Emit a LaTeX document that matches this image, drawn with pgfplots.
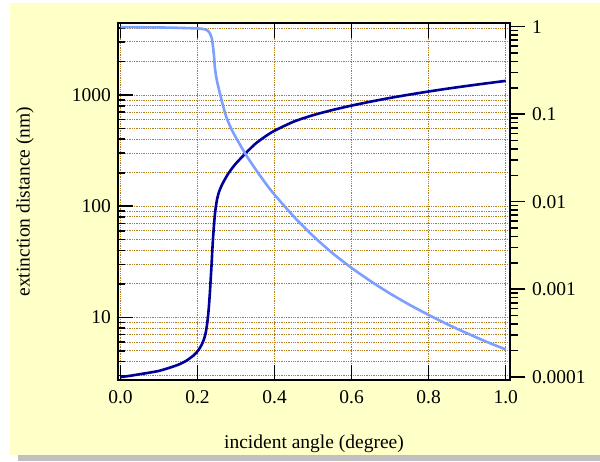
\documentclass[border=0pt]{standalone}
\usepackage{fontspec}
\setmainfont{Liberation Serif}
\usepackage{pgfplots}
\pgfplotsset{compat=1.18}
\definecolor{bgyellow}{RGB}{255,255,200}
\definecolor{shadowgray}{RGB}{192,192,192}
\definecolor{gridgold}{RGB}{180,125,30}
\definecolor{darkcurve}{RGB}{0,0,153}
\definecolor{lightcurve}{RGB}{125,160,255}
\newcommand\chartfont{\fontsize{19.5}{22}\selectfont}

\pgfplotsset{
  common/.style={
    at={(118pt,81pt)}, anchor=south west, scale only axis,
    width=392pt, height=356.7pt,
    xmin=-0.0065, xmax=1.0112,
    tick label style={font=\chartfont}, label style={font=\chartfont},
    tick style={black, line width=1.6pt},
    axis line style={line width=1.6pt},
    major tick length=15pt,
  }
}

\begin{document}
\begin{tikzpicture}[x=1pt,y=1pt]
\path[use as bounding box] (0,0) rectangle (600,461);
\fill[shadowgray] (18,0) rectangle (600,6);
\fill[bgyellow] (10,6) rectangle (600,458);

% extinction distance, left axis
\begin{semilogyaxis}[
  common,
  axis background/.style={fill=white},
  ymin=2.731, ymax=4419,
  xtick={0,0.2,0.4,0.6,0.8,1.0}, xticklabels={0.0,0.2,0.4,0.6,0.8,1.0},
  ytick={10,100,1000}, yticklabels={10,100,1000},
  minor ytick={3,4,5,6,7,8,9,20,30,40,50,60,70,80,90,200,300,400,500,600,700,800,900,2000,3000,4000},
  ytick pos=left, xtick pos=both, tick align=inside,
  minor tick length=7pt,
  grid=both,
  major grid style={gridgold, dash pattern=on 1.3pt off 1pt, line width=1pt},
  minor grid style={gridgold, dash pattern=on 1.3pt off 1pt, line width=1pt},
  xticklabel style={yshift=-7pt},
  yticklabel style={xshift=-3.5pt},
  xlabel={incident angle (degree)},
  xlabel style={at={(axis description cs:0.5,-0.178)}, anchor=center},
  ylabel={extinction distance (nm)},
  ylabel style={at={(axis description cs:-0.2372,0.5)}, anchor=center},
]
\addplot[darkcurve, line width=2.6pt, smooth, tension=0.4] coordinates {
(0.000,2.90)(0.025,2.98)(0.050,3.08)(0.075,3.18)(0.100,3.30)(0.125,3.50)
(0.150,3.75)(0.170,4.05)(0.190,4.55)(0.200,4.95)(0.206,5.30)(0.212,5.80)
(0.217,6.40)(0.221,7.20)(0.224,8.30)(0.227,10.0)(0.2295,12.5)(0.232,16.5)
(0.234,21.6)(0.236,28)(0.238,38)(0.240,50)(0.243,70)(0.246,90)(0.250,112)
(0.255,132)(0.262,152)(0.270,172)(0.280,197)(0.290,220)(0.300,243)
(0.325,300)(0.350,364)(0.375,422)(0.400,478)(0.450,577)
(0.500,659)(0.550,733)(0.600,804)(0.650,873)(0.700,942)(0.750,1009)
(0.800,1076)(0.850,1143)(0.900,1208)(0.950,1274)(1.000,1340)};
\end{semilogyaxis}

% reflectivity, right axis
\begin{semilogyaxis}[
  common,
  ymin=9.17e-5, ymax=1.093,
  axis x line=none, axis y line*=right,
  ytick={1e-4,1e-3,1e-2,1e-1,1}, yticklabels={0.0001,0.001,0.01,0.1,1},
  minor ytick={2e-4,3e-4,4e-4,5e-4,6e-4,7e-4,8e-4,9e-4,
               2e-3,3e-3,4e-3,5e-3,6e-3,7e-3,8e-3,9e-3,
               2e-2,3e-2,4e-2,5e-2,6e-2,7e-2,8e-2,9e-2,
               0.2,0.3,0.4,0.5,0.6,0.7,0.8,0.9},
  tick align=outside, minor tick length=8pt,
  yticklabel style={xshift=3.5pt},
]
\addplot[lightcurve, line width=2.6pt, smooth, tension=0.4] coordinates {
(0.000,0.99)(0.050,0.985)(0.100,0.98)(0.150,0.97)(0.200,0.955)(0.215,0.94)
(0.224,0.915)(0.230,0.87)(0.234,0.80)(0.237,0.74)(0.240,0.60)(0.243,0.45)
(0.245,0.34)(0.250,0.245)(0.258,0.173)(0.266,0.126)(0.275,0.092)(0.287,0.069)
(0.300,0.0537)(0.325,0.0347)(0.350,0.0237)(0.375,0.0166)(0.400,0.0120)
(0.450,0.00675)(0.500,0.00406)(0.550,0.00259)(0.600,0.00175)(0.650,0.00123)
(0.700,0.000891)(0.750,0.000665)(0.800,0.000508)(0.850,0.000395)
(0.900,0.000313)(0.950,0.000251)(1.000,0.000205)};
\end{semilogyaxis}
\end{tikzpicture}
\end{document}
